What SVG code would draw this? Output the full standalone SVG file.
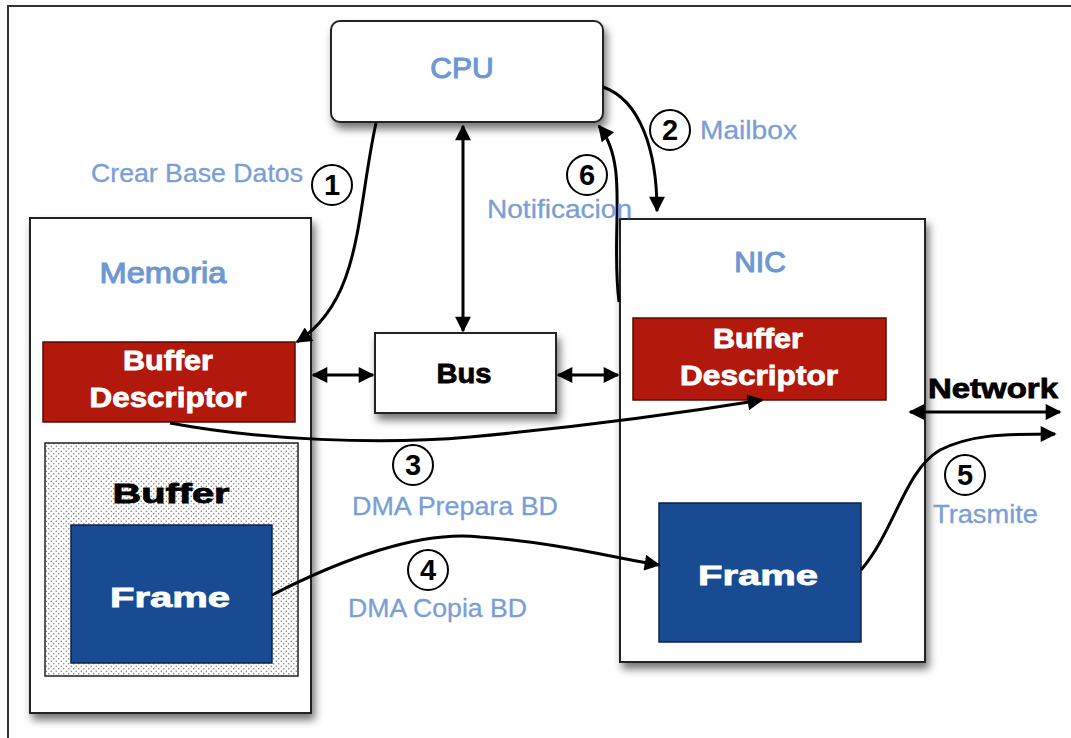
<svg xmlns="http://www.w3.org/2000/svg" width="1071" height="738" viewBox="0 0 1071 738">
<style>
.box{fill:#fff;stroke:#222;stroke-width:2}
.lbl{font-family:"Liberation Sans",Arial,sans-serif;fill:#7a9fd6;stroke:#7a9fd6;stroke-width:0.3;font-size:25px}
.hdr{font-family:"Liberation Sans",Arial,sans-serif;fill:#6f98d2;stroke:#6f98d2;stroke-width:1.1;font-size:30px;text-anchor:middle}
.heavy{font-family:"Liberation Sans",Arial,sans-serif;font-weight:bold;font-size:27px;text-anchor:middle}
.w{fill:#fff;stroke:#fff;stroke-width:0.8}
.k{fill:#000;stroke:#000;stroke-width:0.8}
.num{font-family:"Liberation Sans",Arial,sans-serif;font-weight:bold;font-size:29px;text-anchor:middle;fill:#000}
.circ{fill:#fff;stroke:#000;stroke-width:2}
.con{fill:none;stroke:#000;stroke-width:3}
</style>
<defs>
<filter id="sh" x="-10%" y="-10%" width="130%" height="130%">
<feDropShadow dx="3" dy="6" stdDeviation="4" flood-color="#000" flood-opacity="0.55"/>
</filter>
<pattern id="dots" width="5" height="5" patternUnits="userSpaceOnUse">
<rect width="5" height="5" fill="#fff"/>
<circle cx="1.25" cy="1.25" r="0.75" fill="#777"/>
<circle cx="3.75" cy="3.75" r="0.75" fill="#777"/>
</pattern>
<marker id="ah" viewBox="0 0 10 10" refX="9" refY="5" markerWidth="6" markerHeight="5.3" orient="auto-start-reverse" markerUnits="strokeWidth">
<path d="M0,0 L10,5 L0,10 z" fill="#000"/>
</marker>
</defs>
<rect x="0" y="0" width="1071" height="738" fill="#fff"/>
<rect x="8" y="6" width="1100" height="800" fill="none" stroke="#333" stroke-width="2"/>

<g id="cpu">
<rect class="box" x="331" y="21" width="272" height="101" rx="9" filter="url(#sh)"/>
<text class="hdr" x="462" y="78">CPU</text>
</g>

<g id="memoria">
<rect class="box" x="30" y="218" width="281" height="495" filter="url(#sh)"/>
<text class="hdr" x="163" y="283" textLength="127" lengthAdjust="spacingAndGlyphs">Memoria</text>
</g>

<g id="mem-bd">
<rect x="43" y="342" width="252" height="80" fill="#b2180b" stroke="#5a0a05" stroke-width="1.5"/>
<text class="heavy w" x="168" y="370" textLength="90" lengthAdjust="spacingAndGlyphs">Buffer</text>
<text class="heavy w" x="168" y="407" textLength="157" lengthAdjust="spacingAndGlyphs">Descriptor</text>
</g>

<g id="mem-buffer">
<rect x="45" y="443" width="253" height="233" fill="url(#dots)" stroke="#222" stroke-width="1.5"/>
<text class="heavy k" x="171" y="503" font-size="30" textLength="117" lengthAdjust="spacingAndGlyphs">Buffer</text>
</g>

<g id="mem-frame">
<rect x="71" y="525" width="201" height="138" fill="#184b91" stroke="#0c2248" stroke-width="1.5"/>
<text class="heavy w" x="170" y="607" font-size="30" textLength="120" lengthAdjust="spacingAndGlyphs">Frame</text>
</g>

<g id="bus">
<rect class="box" x="375" y="333" width="181" height="80" filter="url(#sh)"/>
<text class="heavy k" x="464" y="383" font-size="25" textLength="55" lengthAdjust="spacingAndGlyphs">Bus</text>
</g>

<g id="nic">
<rect class="box" x="620" y="219" width="305" height="443" filter="url(#sh)"/>
<text class="hdr" x="760" y="272">NIC</text>
</g>

<g id="nic-bd">
<rect x="633" y="318" width="253" height="82" fill="#b2180b" stroke="#5a0a05" stroke-width="1.5"/>
<text class="heavy w" x="758" y="348" textLength="90" lengthAdjust="spacingAndGlyphs">Buffer</text>
<text class="heavy w" x="759" y="385" textLength="158" lengthAdjust="spacingAndGlyphs">Descriptor</text>
</g>

<g id="nic-frame">
<rect x="659" y="503" width="202" height="139" fill="#184b91" stroke="#0c2248" stroke-width="1.5"/>
<text class="heavy w" x="758" y="585" font-size="30" textLength="120" lengthAdjust="spacingAndGlyphs">Frame</text>
</g>

<g id="network">
<text class="heavy k" x="993" y="398" font-size="27" textLength="130" lengthAdjust="spacingAndGlyphs">Network</text>
</g>

<g id="connectors">
<path class="con" d="M376,123 C356,215 362,300 297,342" marker-end="url(#ah)"/>
<path class="con" d="M463,126 L463,331" marker-start="url(#ah)" marker-end="url(#ah)"/>
<path class="con" d="M313,375 L373,375" marker-start="url(#ah)" marker-end="url(#ah)"/>
<path class="con" d="M558,375 L618,375" marker-start="url(#ah)" marker-end="url(#ah)"/>
<path class="con" d="M603,87 C640,100 657,150 657,211" marker-end="url(#ah)"/>
<path class="con" d="M619,302 C610,230 630,165 599,126" marker-end="url(#ah)"/>
<path class="con" d="M170,423 C260,440 380,445 470,437 C600,425 700,410 762,400" marker-end="url(#ah)"/>
<path class="con" d="M272,595 C340,560 420,530 480,537 C560,543 610,557 659,565" marker-end="url(#ah)"/>
<path class="con" d="M861,570 C895,530 905,470 940,450 C970,435 1000,434 1055,434" marker-end="url(#ah)"/>
<path class="con" d="M910,412 L1060,412" marker-start="url(#ah)" marker-end="url(#ah)"/>
</g>

<g id="labels">
<text class="lbl" x="303" y="182" text-anchor="end" textLength="212" lengthAdjust="spacingAndGlyphs">Crear Base Datos</text>
<text class="lbl" x="700" y="139" textLength="97" lengthAdjust="spacingAndGlyphs">Mailbox</text>
<text class="lbl" x="487" y="218" textLength="145" lengthAdjust="spacingAndGlyphs">Notificacion</text>
<text class="lbl" x="352" y="515" textLength="206" lengthAdjust="spacingAndGlyphs">DMA Prepara BD</text>
<text class="lbl" x="348" y="617" textLength="179" lengthAdjust="spacingAndGlyphs">DMA Copia BD</text>
<text class="lbl" x="933" y="523" textLength="105" lengthAdjust="spacingAndGlyphs">Trasmite</text>
</g>

<g id="steps">
<circle class="circ" cx="332" cy="185" r="20"/><text class="num" x="332" y="195">1</text>
<circle class="circ" cx="670" cy="130" r="20"/><text class="num" x="670" y="140">2</text>
<circle class="circ" cx="587" cy="175" r="20"/><text class="num" x="587" y="185">6</text>
<circle class="circ" cx="413" cy="465" r="20"/><text class="num" x="413" y="475">3</text>
<circle class="circ" cx="428" cy="570" r="20"/><text class="num" x="428" y="580">4</text>
<circle class="circ" cx="965" cy="475" r="20"/><text class="num" x="965" y="485">5</text>
</g>
</svg>
